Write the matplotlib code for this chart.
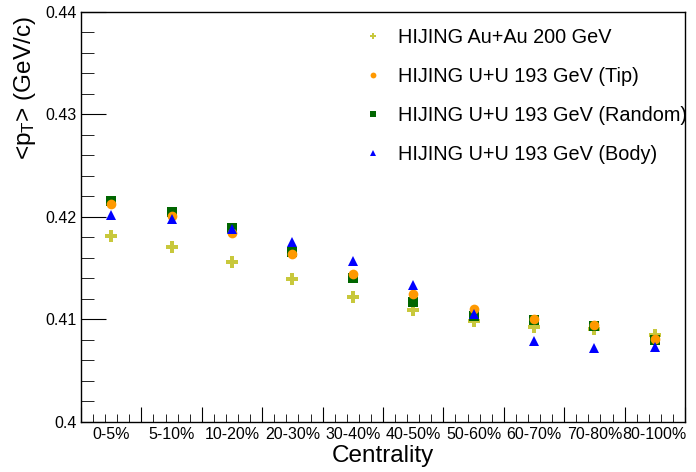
import matplotlib.pyplot as plt
import numpy as np
from matplotlib import ticker

plt.rcParams["font.family"] = ["Liberation Sans", "DejaVu Sans"]
plt.rcParams["mathtext.default"] = "regular"

centrality = ["0-5%", "5-10%", "10-20%", "20-30%", "30-40%",
              "40-50%", "50-60%", "60-70%", "70-80%", "80-100%"]

auau_200 = [0.4181, 0.4170, 0.4156, 0.4139, 0.4122,
            0.4109, 0.4098, 0.4092, 0.4090, 0.4085]
uu_tip = [0.4212, 0.4201, 0.4184, 0.4164, 0.4144,
          0.4125, 0.4110, 0.4100, 0.4094, 0.4081]
uu_random = [0.4215, 0.4205, 0.4189, 0.4166, 0.4140,
             0.4117, 0.4103, 0.4099, 0.4093, 0.4080]
uu_body = [0.4202, 0.4198, 0.4188, 0.4175, 0.4157,
           0.4133, 0.4105, 0.4079, 0.4072, 0.4073]

labels = ["HIJING Au+Au 200 GeV",
          "HIJING U+U 193 GeV (Tip)",
          "HIJING U+U 193 GeV (Random)",
          "HIJING U+U 193 GeV (Body)"]

x = np.arange(len(centrality)) + 0.5

fig = plt.figure(figsize=(6.96, 4.72), dpi=100)
ax = fig.add_axes([0.1164, 0.1066, 0.8678, 0.8686])

ax.plot(x, auau_200, ls="none", marker="P", ms=8, color="#c8c83c", mew=0, label=labels[0])
ax.plot(x, uu_random, ls="none", marker="s", ms=6.5, color="#006600", mew=0, label=labels[2])
ax.plot(x, uu_tip, ls="none", marker="o", ms=7, color="#ff9900", mew=0, label=labels[1])
ax.plot(x, uu_body, ls="none", marker="^", ms=7, color="#0000ff", mew=0, label=labels[3])

ax.set_xlim(0, len(centrality))
ax.set_ylim(0.40, 0.44)

# bin boundaries as ticks, labels at bin centres via a secondary axis
ax.set_xticks(np.arange(len(centrality) + 1))
ax.xaxis.set_minor_locator(ticker.MultipleLocator(0.2))
ax.tick_params(axis="x", which="major", direction="in", length=11, labelbottom=False, top=False)
ax.tick_params(axis="x", which="minor", direction="in", length=5.5, top=False)

sec = ax.secondary_xaxis("bottom")
sec.set_xticks(x, centrality)
sec.tick_params(length=0, labelsize=11.5, pad=4)
sec.spines["bottom"].set_visible(False)

ax.yaxis.set_major_locator(ticker.MultipleLocator(0.01))
ax.yaxis.set_minor_locator(ticker.MultipleLocator(0.002))
ax.yaxis.set_major_formatter(ticker.StrMethodFormatter("{x:g}"))
ax.tick_params(axis="y", which="major", direction="in", length=18, labelsize=11.5, right=False, pad=3)
ax.tick_params(axis="y", which="minor", direction="in", length=9, right=False)

for s in ax.spines.values():
    s.set_linewidth(1.0)

ax.set_xlabel("Centrality", fontsize=17.5)
ax.xaxis.set_label_coords(0.5, -0.058)
ax.set_ylabel("<p$_{T}$> (GeV/c)", fontsize=17.5, loc="top")
ax.yaxis.set_label_coords(-0.072, 0.99)

h, l = ax.get_legend_handles_labels()
order = [0, 2, 1, 3]
ax.legend([h[i] for i in order], [l[i] for i in order], loc="upper left",
          bbox_to_anchor=(0.437, 1.004), frameon=False, fontsize=14.3,
          markerscale=0.6, handlelength=1.0, handletextpad=0.75, labelspacing=1.0,
          borderpad=0.4)

fig.savefig("out.png", dpi=100)
